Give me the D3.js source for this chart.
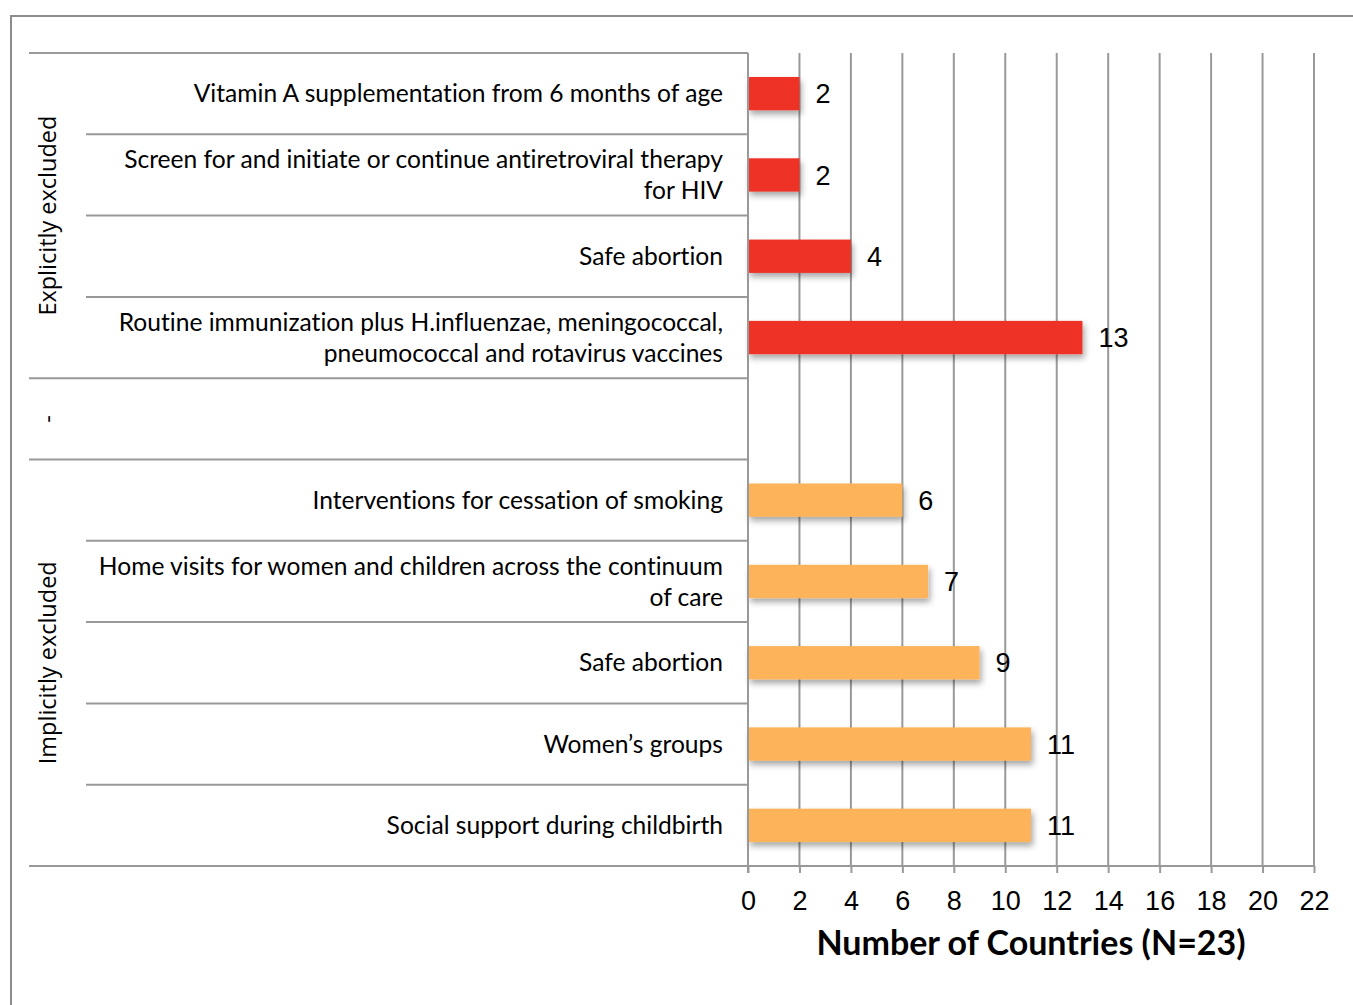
<!DOCTYPE html>
<html>
<head>
<meta charset="utf-8">
<script src="https://cdn.jsdelivr.net/npm/d3@7"></script>
<style>
  body { margin: 0; background: #fff; }
  text { font-variant-ligatures: none; }
  .cat { font-family: Lato, "Open Sans", sans-serif; font-size: 24.6px; fill: #000; }
  .grp { font-family: "Open Sans", sans-serif; font-size: 23.5px; fill: #000; }
  .val, .tick text { font-family: "Liberation Sans", Arial, sans-serif; font-size: 27px; fill: #000; }
  .title { font-family: Lato, sans-serif; font-size: 34px; font-weight: bold; }
</style>
</head>
<body>
<svg id="chart"></svg>
<script>
// categories from top to bottom; "" is the empty spacer row
const categories = [
  "Vitamin A supplementation from 6 months of age",
  "Screen for and initiate or continue antiretroviral therapy\nfor HIV",
  "Safe abortion",
  "Routine immunization plus H.influenzae, meningococcal,\npneumococcal and rotavirus vaccines",
  "",
  "Interventions for cessation of smoking",
  "Home visits for women and children across the continuum\nof care",
  "Safe abortion ",
  "Women\u2019s groups",
  "Social support during childbirth"
];
const values = [2, 2, 4, 13, null, 6, 7, 9, 11, 11];
const group = ["exp", "exp", "exp", "exp", "gap", "imp", "imp", "imp", "imp", "imp"];
const groups = [
  { key: "exp", label: "Explicitly excluded", first: 0, last: 3 },
  { key: "gap", label: "-", first: 4, last: 4 },
  { key: "imp", label: "Implicitly excluded", first: 5, last: 9 }
];
const colors = { exp: "#EE3328", imp: "#FDB35A" };
const ticks = [0, 2, 4, 6, 8, 10, 12, 14, 16, 18, 20, 22];

const width = 1353, height = 1005;
const plotL = 748, plotR = 1314, plotT = 53, plotB = 866;

const svg = d3.select("#chart").attr("width", width).attr("height", height);

const defs = svg.append("defs");
const f = defs.append("filter").attr("id", "shadow")
  .attr("x", "-10%").attr("y", "-30%").attr("width", "130%").attr("height", "190%");
f.append("feDropShadow").attr("dx", 2).attr("dy", 4).attr("stdDeviation", 3)
  .attr("flood-color", "#000").attr("flood-opacity", 0.35);

// outer frame
svg.append("rect").attr("x", 11).attr("y", 16).attr("width", 1400).attr("height", 1100)
  .attr("fill", "none").attr("stroke", "#8c8c8c").attr("stroke-width", 2);

const x = d3.scaleLinear().domain([0, 22]).range([plotL, plotR]);
const y = d3.scaleBand().domain(d3.range(categories.length)).range([plotT, plotB]).padding(0);

// vertical gridlines
svg.append("g").selectAll("line").data(ticks.slice(1)).join("line")
  .attr("x1", d => x(d)).attr("x2", d => x(d))
  .attr("y1", plotT).attr("y2", plotB)
  .attr("stroke", "#999").attr("stroke-width", 2);

// row separators
const seps = d3.range(categories.length + 1).map(i => {
  const isOuter = groups.some(g => g.first === i || g.last + 1 === i);
  return { y: i === categories.length ? plotB : y(i), x0: isOuter ? 29 : 86 };
});
svg.append("g").selectAll("line").data(seps).join("line")
  .attr("x1", d => d.x0).attr("x2", plotL)
  .attr("y1", d => d.y).attr("y2", d => d.y)
  .attr("stroke", "#999").attr("stroke-width", 2);

// bars
const barH = y.bandwidth() * 0.41;
const rows = categories.map((c, i) => ({ c, v: values[i], g: group[i], i })).filter(d => d.v != null);
svg.append("g").selectAll("rect").data(rows).join("rect")
  .attr("x", x(0)).attr("y", d => y(d.i) + (y.bandwidth() - barH) / 2)
  .attr("width", d => x(d.v) - x(0)).attr("height", barH)
  .attr("fill", d => colors[d.g]).attr("filter", "url(#shadow)");

// value labels
svg.append("g").selectAll("text").data(rows).join("text")
  .attr("class", "val")
  .attr("x", d => x(d.v) + 16).attr("y", d => y(d.i) + y.bandwidth() / 2)
  .attr("dy", "0.36em").text(d => d.v);

// bottom axis
const xAxis = d3.axisBottom(x).tickValues(ticks).tickSize(7).tickPadding(13).tickFormat(d3.format("d"));
const ax = svg.append("g").attr("transform", `translate(0,${plotB})`).call(xAxis);
ax.select(".domain").remove();
ax.selectAll(".tick line").attr("stroke", "#999").attr("stroke-width", 2);
ax.selectAll(".tick text").attr("dy", "0.9em");
svg.append("line").attr("x1", 29).attr("x2", plotR).attr("y1", plotB).attr("y2", plotB)
  .attr("stroke", "#999").attr("stroke-width", 2);
svg.append("line").attr("x1", plotL).attr("x2", plotL).attr("y1", plotT).attr("y2", plotB + 7)
  .attr("stroke", "#999").attr("stroke-width", 2);

// category labels
const cat = svg.append("g").selectAll("text").data(categories.map((c, i) => ({ c, i }))).join("text")
  .attr("class", "cat").attr("text-anchor", "end");
cat.each(function (d) {
  const lines = d.c.split("\n");
  const cy = y(d.i) + y.bandwidth() / 2;
  const lh = 31;
  d3.select(this).selectAll("tspan").data(lines).join("tspan")
    .attr("x", 723)
    .attr("y", (l, k) => cy + (k - (lines.length - 1) / 2) * lh)
    .attr("dy", "0.35em")
    .text(l => l);
});

// group labels
svg.append("g").selectAll("text").data(groups).join("text")
  .attr("class", "grp").attr("text-anchor", "middle")
  .attr("transform", d => {
    const cy = (y(d.first) + y(d.last) + y.bandwidth()) / 2;
    return `translate(48,${cy}) rotate(-90)`;
  })
  .attr("dy", "0.35em").text(d => d.label);

// axis title
svg.append("text").attr("class", "title").attr("text-anchor", "middle")
  .attr("x", 1031).attr("y", 955).text("Number of Countries (N=23)");
</script>
</body>
</html>
